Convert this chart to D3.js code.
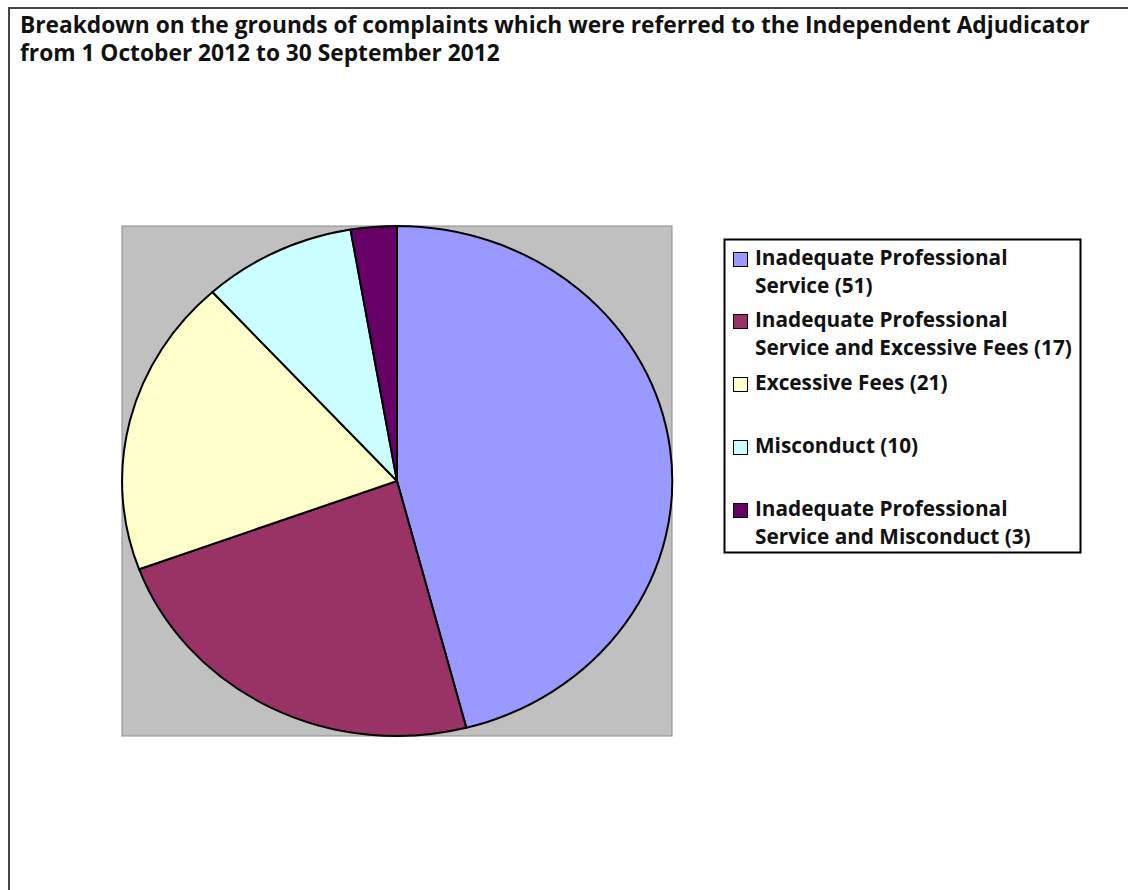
<!DOCTYPE html>
<html>
<head>
<meta charset="utf-8">
<script src="https://cdn.jsdelivr.net/npm/d3@7"></script>
<style>
  html, body { margin: 0; padding: 0; background: #fff; }
  svg { display: block; }
</style>
</head>
<body>
<div id="chart"></div>
<script>
// slice sizes as drawn in the pie (the legend text carries the published counts)
const categories = [
  "Inadequate Professional Service",
  "Inadequate Professional Service and Excessive Fees",
  "Excessive Fees",
  "Misconduct",
  "Inadequate Professional Service and Misconduct"
];
const sliceValues = [51, 26, 21, 10, 3];
const legendLines = [
  ["Inadequate Professional", "Service (51)"],
  ["Inadequate Professional", "Service and Excessive Fees (17)"],
  ["Excessive Fees (21)"],
  ["Misconduct (10)"],
  ["Inadequate Professional", "Service and Misconduct (3)"]
];
const sliceColors = ["#9999FF", "#993366", "#FFFFCC", "#CCFFFF", "#660066"];
const titleLines = [
  "Breakdown on the grounds of complaints which were referred to the Independent Adjudicator",
  "from 1 October 2012 to 30 September 2012"
];

const width = 1128, height = 890;
const font = "'Open Sans', Lato, sans-serif";

const svg = d3.select("#chart").append("svg")
  .attr("width", width)
  .attr("height", height);

// fit a text selection's font size so its widest line matches a target width
function fitFont(sel, startSize, target) {
  sel.attr("font-size", startSize);
  let widest = 0;
  sel.each(function () { widest = Math.max(widest, this.getComputedTextLength()); });
  const size = startSize * target / widest;
  sel.attr("font-size", size);
  return size;
}

// outer frame (top and left edges visible)
svg.append("path")
  .attr("d", "M9,890 V8 H1128")
  .attr("fill", "none")
  .attr("stroke", "#444")
  .attr("stroke-width", 2);

// title
const title = svg.selectAll("text.title")
  .data(titleLines)
  .enter().append("text")
  .attr("class", "title")
  .attr("x", 20)
  .attr("y", (d, i) => 33 + i * 28)
  .attr("font-family", font)
  .attr("font-weight", "bold")
  .attr("fill", "#111")
  .text(d => d);
fitFont(title, 18, 1070);

// plot area
const plot = { x: 122, y: 226, w: 550, h: 510 };
svg.append("rect")
  .attr("x", plot.x)
  .attr("y", plot.y)
  .attr("width", plot.w)
  .attr("height", plot.h)
  .attr("fill", "#C0C0C0")
  .attr("stroke", "#8c8c8c")
  .attr("stroke-width", 1);

const color = d3.scaleOrdinal().domain(categories).range(sliceColors);

const pie = d3.pie().sort(null).value(d => d.value);
const arc = d3.arc().innerRadius(0).outerRadius(1);

const data = categories.map((c, i) => ({ name: c, value: sliceValues[i] }));

// the pie is stretched to fill the plot area, so draw a unit pie and scale it
const pieGroup = svg.append("g")
  .attr("transform", `translate(${plot.x + plot.w / 2},${plot.y + plot.h / 2}) scale(${plot.w / 2},${plot.h / 2})`);

pieGroup.selectAll("path")
  .data(pie(data))
  .enter().append("path")
  .attr("d", arc)
  .attr("fill", d => color(d.data.name))
  .attr("stroke", "#000")
  .attr("stroke-width", 2)
  .attr("stroke-linejoin", "round")
  .attr("vector-effect", "non-scaling-stroke");

// legend
svg.append("rect")
  .attr("x", 724.5)
  .attr("y", 239.5)
  .attr("width", 356)
  .attr("height", 313)
  .attr("fill", "#fff")
  .attr("stroke", "#000")
  .attr("stroke-width", 2);

const itemY = [259, 321, 384, 447, 510];
const legend = svg.selectAll("g.legend-item")
  .data(categories)
  .enter().append("g")
  .attr("class", "legend-item")
  .attr("transform", (d, i) => `translate(733,${itemY[i]})`);

legend.append("rect")
  .attr("x", 0.5)
  .attr("y", -6.5)
  .attr("width", 14)
  .attr("height", 14)
  .attr("fill", d => color(d))
  .attr("stroke", "#000")
  .attr("stroke-width", 1);

legend.each(function (d, i) {
  d3.select(this).selectAll("text")
    .data(legendLines[i])
    .enter().append("text")
    .attr("class", "legend-text")
    .attr("x", 22)
    .attr("y", (t, j) => 6 + j * 28)
    .attr("font-family", font)
    .attr("font-weight", "bold")
    .attr("fill", "#111")
    .text(t => t);
});
fitFont(svg.selectAll("text.legend-text"), 17, 317);
</script>
</body>
</html>
